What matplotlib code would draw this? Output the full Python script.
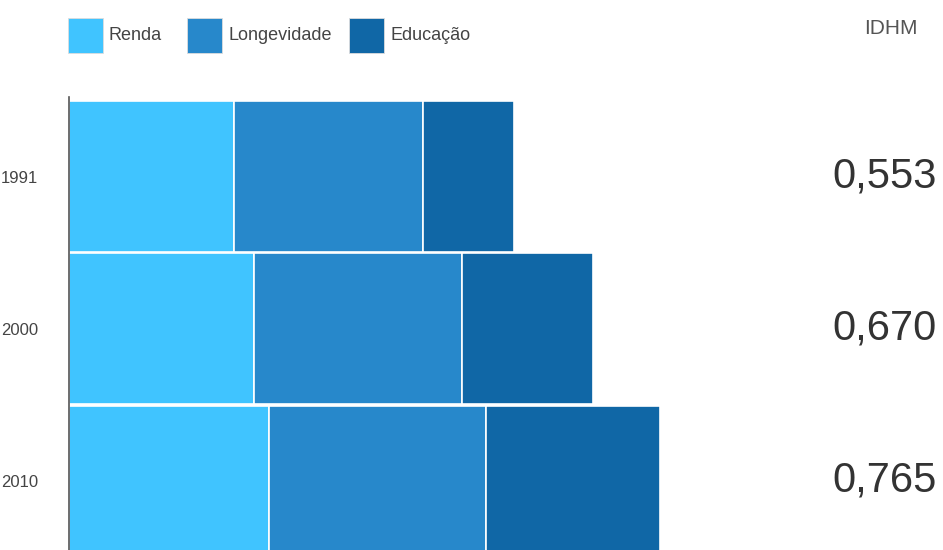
"""
IDHM por componente: Renda, Longevidade e Educação (1991, 2000, 2010)
"""

import matplotlib.pyplot as plt
from matplotlib.patches import Rectangle

# ============================================================
# Data
# ============================================================

years = ["1991", "2000", "2010"]
renda = [0.645, 0.724, 0.782]
longevidade = [0.738, 0.8125, 0.846]
educacao = [0.355, 0.512, 0.680]
idhm_labels = ["0,553", "0,670", "0,765"]

series_names = ["Renda", "Longevidade", "Educação"]
colors = ["#40C4FF", "#2788CB", "#1067A6"]

plt.rcParams["font.family"] = ["Liberation Sans", "DejaVu Sans"]

# ============================================================
# Figure
# ============================================================

W, H = 943, 550
fig = plt.figure(figsize=(W / 100, H / 100), dpi=100)

# axes from x=69px, 256 px per unit; top at 97px down to the bottom edge
ax = fig.add_axes([69 / W, 0, 768 / W, 453 / H])
ax.set_xlim(0, 3.0)
ax.set_ylim(2.457, -0.523)

ypos = list(range(len(years)))
left = [0.0] * len(years)
for name, vals, col in zip(series_names, [renda, longevidade, educacao], colors):
    ax.barh(ypos, vals, left=left, height=0.987, color=col,
            edgecolor="white", linewidth=1.2, label=name)
    left = [a + b for a, b in zip(left, vals)]

for s in ["top", "right", "bottom"]:
    ax.spines[s].set_visible(False)
ax.spines["left"].set_color("#555555")
ax.spines["left"].set_linewidth(1.2)

ax.set_xticks([])
ax.set_yticks(ypos)
ax.set_yticklabels(years, fontsize=12, color="#444444")
ax.tick_params(axis="y", length=0, pad=22)

# IDHM values on the right
for y, lab in zip(ypos, idhm_labels):
    ax.annotate(lab, xy=(937 / W, y), xycoords=("figure fraction", "data"),
                ha="right", va="center", fontsize=30, color="#333333")

fig.text(918 / W, 1 - 29 / H, "IDHM", ha="right", va="center",
         fontsize=15, color="#555555")

# legend: colored squares with labels
legend_x = [68, 187, 349]
for x0, name, col in zip(legend_x, series_names, colors):
    fig.add_artist(Rectangle((x0 / W, 1 - 53 / H), 35 / W, 35 / H,
                             transform=fig.transFigure, facecolor=col,
                             edgecolor="#dddddd", linewidth=0.6))
    fig.text((x0 + 41) / W, 1 - 36 / H, name, ha="left", va="center",
             fontsize=13, color="#444444")

fig.savefig("out.png", dpi=100)
